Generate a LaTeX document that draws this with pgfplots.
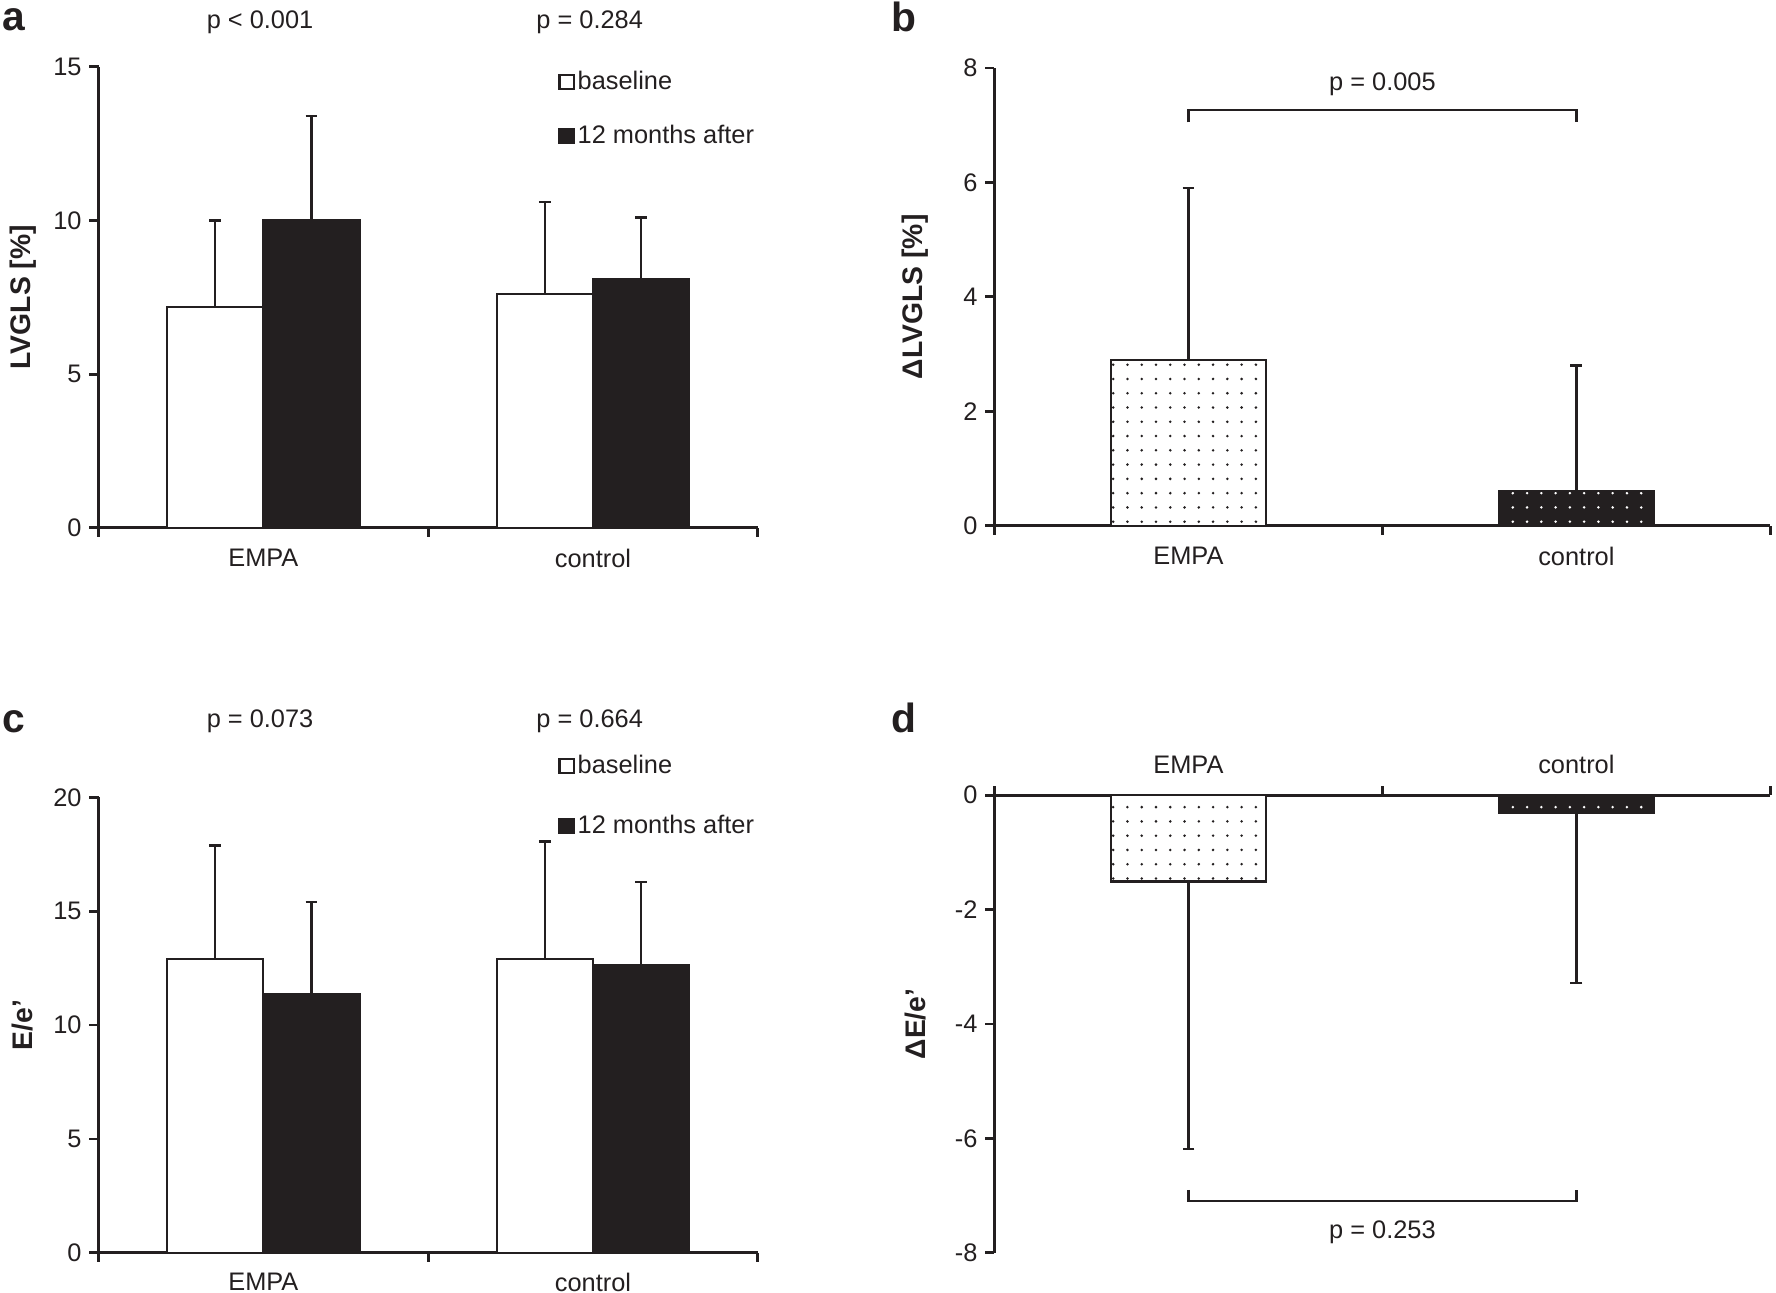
\documentclass[border=0pt]{standalone}
\usepackage{pgfplots}
\pgfplotsset{compat=1.18}
\usepackage{fontspec}
\setmainfont{Liberation Sans}
\usetikzlibrary{patterns.meta}
\definecolor{ink}{RGB}{35,31,32}

\tikzset{pfont/.style={font=\fontsize{11.2}{13}\selectfont, text=ink}}
\pgfplotsset{
  panel/.style={
    scale only axis,
    clip=false,
    axis line style={ink, line width=1.2pt, -},
    xmin=-0.5, xmax=1.5,
    xtick={0,1}, xticklabels={EMPA,control},
    minor xtick={-0.5,0.5,1.5},
    major x tick style={draw=none},
    minor tick length=4pt,
    major tick length=4pt,
    tick style={ink, line width=1.2pt},
    tick align=outside,
    ytick pos=left,
    /pgf/number format/assume math mode=true,
    ticklabel style={font=\fontsize{11.2}{13}\selectfont, text=ink},
    ylabel style={font=\bfseries\fontsize{12.5}{14}\selectfont, text=ink, anchor=center},
    legend image code/.code={\draw[#1, line width=0.9pt] (0pt,-3.2pt) rectangle (6.4pt,3.2pt);},
    legend cell align=left,
  },
  ebar/.style={/pgfplots/error bars/y explicit, /pgfplots/error bars/error bar style={line width=1pt, ink},
    /pgfplots/error bars/error mark options={rotate=90, line width=1pt, ink, mark size=2.6pt}},
  dotsw/.style={postaction={pattern={Dots[distance=6.3pt, radius=0.62pt]}, pattern color=ink}},
  dotsb/.style={postaction={pattern={Dots[distance=6.3pt, radius=0.62pt]}, pattern color=white}},
}

\begin{document}
\begin{tikzpicture}
\useasboundingbox (0,0) rectangle (784pt,570.5pt);

% ---------------- panel a ----------------
\begin{axis}[panel, at={(43.5pt,337.5pt)}, anchor=south west,
  width=291pt, height=203.5pt,
  axis x line*=bottom, axis y line*=left,
  ymin=0, ymax=15, ytick={0,5,10,15},
  xticklabel style={yshift=-2pt},
  ylabel={LVGLS [\%]}, ylabel style={at={(axis description cs:-0.115,0.5)}},
  legend style={at={(axis description cs:0.697,0.998)}, anchor=north west, draw=none, fill=none,
    font=\fontsize{11.2}{13}\selectfont, text=ink, row sep=12pt, inner sep=0pt,
    nodes={inner sep=1.2pt}},
]
\addplot[ybar, bar width=42.5pt, bar shift=0pt, draw=ink, fill=white, line width=0.9pt,
  ebar, error bars/y dir=plus]
  coordinates {(-0.146,7.20) +- (0,2.80) (0.854,7.60) +- (0,2.99)};
\addlegendentry{baseline}
\addplot[ybar, bar width=42.5pt, bar shift=0pt, draw=ink, fill=ink, line width=0.9pt,
  ebar, error bars/y dir=plus]
  coordinates {(0.146,10.02) +- (0,3.37) (1.146,8.10) +- (0,2.00)};
\addlegendentry{12 months after}
\node[pfont] at (axis cs:-0.01,16.45) {p < 0.001};
\node[pfont] at (axis cs:0.99,16.45) {p = 0.284};
\end{axis}

% ---------------- panel b ----------------
\begin{axis}[panel, at={(439pt,338.5pt)}, anchor=south west,
  width=342.5pt, height=202pt,
  axis x line*=bottom, axis y line*=left,
  ymin=0, ymax=8, ytick={0,2,4,6,8},
  xticklabel style={yshift=-2pt},
  ylabel={ΔLVGLS [\%]}, ylabel style={at={(axis description cs:-0.102,0.5)}},
]
\addplot[ybar, bar width=68.5pt, bar shift=0pt, draw=ink, fill=white, line width=0.9pt,
  dotsw, ebar, error bars/y dir=plus]
  coordinates {(0,2.90) +- (0,3.00)};
\addplot[ybar, bar width=68.5pt, bar shift=0pt, draw=ink, fill=ink, line width=0.9pt,
  dotsb, ebar, error bars/y dir=plus]
  coordinates {(1,0.61) +- (0,2.19)};
\addplot[ink, line width=1pt, mark=none] coordinates {(0,7.05) (0,7.27) (1,7.27) (1,7.05)};
\node[pfont] at (axis cs:0.5,7.72) {p = 0.005};
\end{axis}

% ---------------- panel c ----------------
\begin{axis}[panel, at={(43.5pt,17.5pt)}, anchor=south west,
  width=291pt, height=201pt,
  axis x line*=bottom, axis y line*=left,
  ymin=0, ymax=20, ytick={0,5,10,15,20},
  xticklabel style={yshift=-1.5pt},
  ylabel={E/e’}, ylabel style={at={(axis description cs:-0.115,0.5)}},
  legend style={at={(axis description cs:0.697,1.10)}, anchor=north west, draw=none, fill=none,
    font=\fontsize{11.2}{13}\selectfont, text=ink, row sep=14.5pt, inner sep=0pt,
    nodes={inner sep=1.2pt}},
]
\addplot[ybar, bar width=42.5pt, bar shift=0pt, draw=ink, fill=white, line width=0.9pt,
  ebar, error bars/y dir=plus]
  coordinates {(-0.146,12.90) +- (0,4.99) (0.854,12.90) +- (0,5.16)};
\addlegendentry{baseline}
\addplot[ybar, bar width=42.5pt, bar shift=0pt, draw=ink, fill=ink, line width=0.9pt,
  ebar, error bars/y dir=plus]
  coordinates {(0.146,11.36) +- (0,4.04) (1.146,12.64) +- (0,3.65)};
\addlegendentry{12 months after}
\node[pfont] at (axis cs:-0.01,23.35) {p = 0.073};
\node[pfont] at (axis cs:0.99,23.35) {p = 0.664};
\end{axis}

% ---------------- panel d ----------------
\begin{axis}[panel, at={(439pt,17.5pt)}, anchor=south west,
  width=342.5pt, height=202pt,
  axis x line*=top, axis y line*=left,
  ymin=-8, ymax=0, ytick={-8,-6,-4,-2,0},
  xticklabel style={yshift=2pt},
  ylabel={ΔE/e’}, ylabel style={at={(axis description cs:-0.102,0.5)}},
]
\addplot[ybar, bar width=68.5pt, bar shift=0pt, draw=ink, fill=white, line width=0.9pt,
  dotsw, ebar, error bars/y dir=minus]
  coordinates {(0,-1.51) +- (0,4.68)};
\addplot[ybar, bar width=68.5pt, bar shift=0pt, draw=ink, fill=ink, line width=0.9pt,
  dotsb, ebar, error bars/y dir=minus]
  coordinates {(1,-0.31) +- (0,2.98)};
\addplot[ink, line width=1pt, mark=none] coordinates {(0,-6.90) (0,-7.10) (1,-7.10) (1,-6.90)};
\node[pfont] at (axis cs:0.5,-7.64) {p = 0.253};
\end{axis}

% panel letters
\node[anchor=base west, inner sep=0pt, font=\bfseries\fontsize{18}{20}\selectfont, text=ink] at (1pt,557pt) {a};
\node[anchor=base west, inner sep=0pt, font=\bfseries\fontsize{18}{20}\selectfont, text=ink] at (393.5pt,556.5pt) {b};
\node[anchor=base west, inner sep=0pt, font=\bfseries\fontsize{18}{20}\selectfont, text=ink] at (1pt,247pt) {c};
\node[anchor=base west, inner sep=0pt, font=\bfseries\fontsize{18}{20}\selectfont, text=ink] at (393.5pt,247pt) {d};
\end{tikzpicture}
\end{document}
